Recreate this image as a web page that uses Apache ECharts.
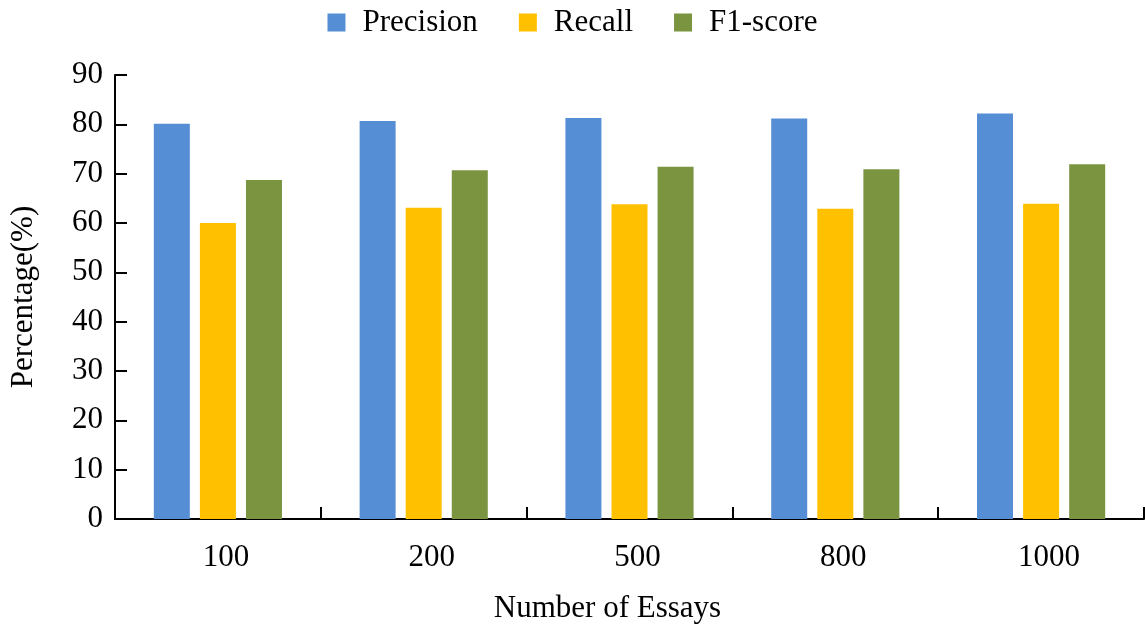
<!DOCTYPE html>
<html>
<head>
<meta charset="utf-8">
<script src="https://cdn.jsdelivr.net/npm/echarts@6/dist/echarts.min.js"></script>
<style>
html,body{margin:0;padding:0;background:#fff;}
#chart{width:1145px;height:631px;}
</style>
</head>
<body>
<div id="chart"></div>
<script>
const categories = ['100', '200', '500', '800', '1000'];
const precision = [80.1, 80.7, 81.3, 81.2, 82.2];
const recall = [60.0, 63.1, 63.8, 62.9, 63.9];
const f1score = [68.7, 70.7, 71.4, 70.9, 71.9];
const seriesNames = ['Precision', 'Recall', 'F1-score'];
const colors = ['#558ED5', '#FFC000', '#7A9440'];

const font = 'Liberation Serif, Times New Roman, serif';
const chart = echarts.init(document.getElementById('chart'));
const values = [precision, recall, f1score];
chart.setOption({
  animation: false,
  color: colors,
  textStyle: { fontFamily: font },
  legend: {
    top: 2,
    left: 'center',
    itemWidth: 18,
    itemHeight: 18,
    itemGap: 41,
    icon: 'rect',
    textStyle: { fontFamily: font, fontSize: 31, color: '#000', padding: [0, 0, 0, 12] },
    data: seriesNames
  },
  grid: { left: 110, right: 1, top: 75, bottom: 112, containLabel: false },
  xAxis: {
    type: 'category',
    data: categories,
    name: 'Number of Essays',
    nameLocation: 'middle',
    nameGap: 74,
    nameTextStyle: { fontFamily: font, fontSize: 31, color: '#000', padding: [0, 44, 0, 0] },
    axisLine: { show: true, lineStyle: { color: '#000', width: 2 } },
    axisTick: { show: true, inside: true, length: 12, lineStyle: { color: '#000', width: 2 } },
    axisLabel: { fontFamily: font, fontSize: 31, color: '#000', margin: 23, padding: [0, 0, 0, 16] }
  },
  yAxis: {
    type: 'value',
    min: 0,
    max: 90,
    interval: 10,
    name: 'Percentage(%)',
    nameLocation: 'middle',
    nameGap: 76,
    nameTextStyle: { fontFamily: font, fontSize: 31, color: '#000' },
    axisLine: { show: true, lineStyle: { color: '#000', width: 2 } },
    axisTick: { show: true, inside: true, length: 12, lineStyle: { color: '#000', width: 2 } },
    axisLabel: { fontFamily: font, fontSize: 31, color: '#000', margin: 12 },
    splitLine: { show: false }
  },
  series: seriesNames.map((n, i) => ({
    name: n,
    type: 'bar',
    data: values[i],
    barWidth: 36,
    barGap: '28%'
  }))
});
</script>
</body>
</html>
